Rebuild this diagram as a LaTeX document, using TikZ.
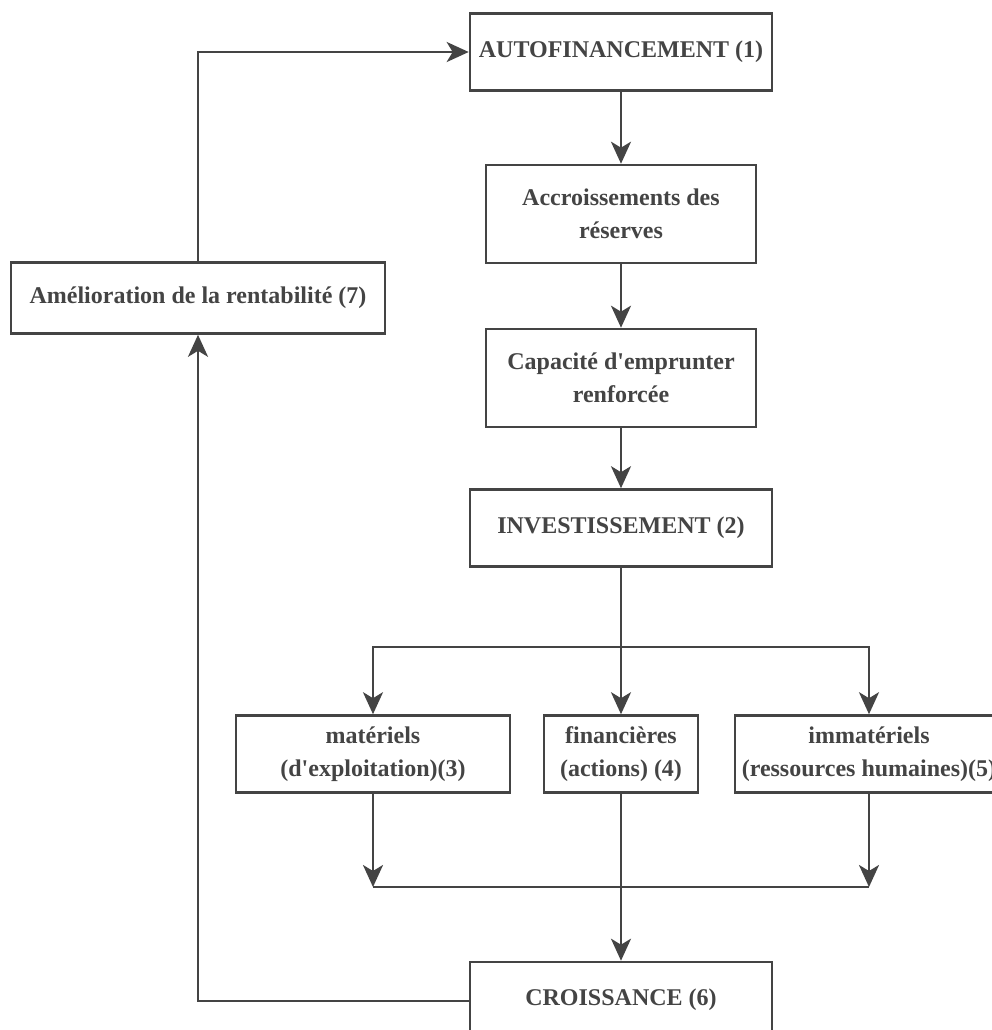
\documentclass[tikz,border=0pt]{standalone}
\usepackage{fontspec}
\setmainfont{Liberation Serif}[Ligatures=TeXOff]
\usepackage{xcolor}
\usepackage{tikz}
\usetikzlibrary{arrows.meta, positioning, calc}

\definecolor{inkgray}{HTML}{444444}

\begin{document}
\begin{tikzpicture}[x=0.5pt, y=-0.5pt,
  box/.style={rectangle,draw=inkgray,line width=1.3pt,fill=white,align=center,
    text=inkgray,font=\fontsize{12}{16.5}\selectfont\bfseries,inner sep=0pt},
  wide/.style={box,minimum width=151pt,minimum height=38.5pt},
  tall/.style={box,minimum width=135pt,minimum height=49pt},
  link/.style={draw=inkgray,line width=1.3pt},
  arr/.style={link,-{Stealth[length=11pt,width=10pt,inset=3pt]}}]
\useasboundingbox[fill=white] (0,0) rectangle (992,1030);

\node[wide] (auto) at (621,52) {AUTOFINANCEMENT (1)};
\node[tall] (accr) at (621,214) {Accroissements des\\r\'eserves};
\node[tall] (cap) at (621,378) {Capacit\'e d'emprunter\\renforc\'ee};
\node[wide] (inv) at (621,528) {INVESTISSEMENT (2)};
\node[box,minimum width=137pt,minimum height=38.5pt] (mat) at (373,754) {mat\'eriels\\(d'exploitation)(3)};
\node[box,minimum width=77pt,minimum height=38.5pt] (fin) at (621,754) {financi\`eres\\(actions) (4)};
\node[box,minimum width=134pt,minimum height=38.5pt] (imm) at (869,754) {immat\'eriels\\(ressources humaines)(5)};
\node[wide,minimum height=39pt] (cro) at (621,1001) {\raisebox{4pt}{CROISSANCE (6)}};
\node[box,minimum width=187pt,minimum height=35.5pt] (ame) at (198,298) {Am\'elioration de la rentabilit\'e (7)};

\coordinate (split) at (621,647);
\coordinate (merge) at (621,887);

% main column
\draw[arr] (auto) -- (accr);
\draw[arr] (accr) -- (cap);
\draw[arr] (cap) -- (inv);

% investment types
\draw[link] (inv) -- (split);
\draw[arr] (split) -| (mat.north);
\draw[arr] (split) -| (imm.north);
\draw[arr] (split) -- (fin);

% back to growth
\draw[arr] (mat.south) -- (mat.south |- merge);
\draw[arr] (imm.south) -- (imm.south |- merge);
\draw[link] (mat.south |- merge) -- (imm.south |- merge);
\draw[arr] (fin) -- (cro);

% loop
\draw[arr] (cro.west) -| (ame.south);
\draw[arr] (ame.north) |- (auto.west);
\end{tikzpicture}
\end{document}
